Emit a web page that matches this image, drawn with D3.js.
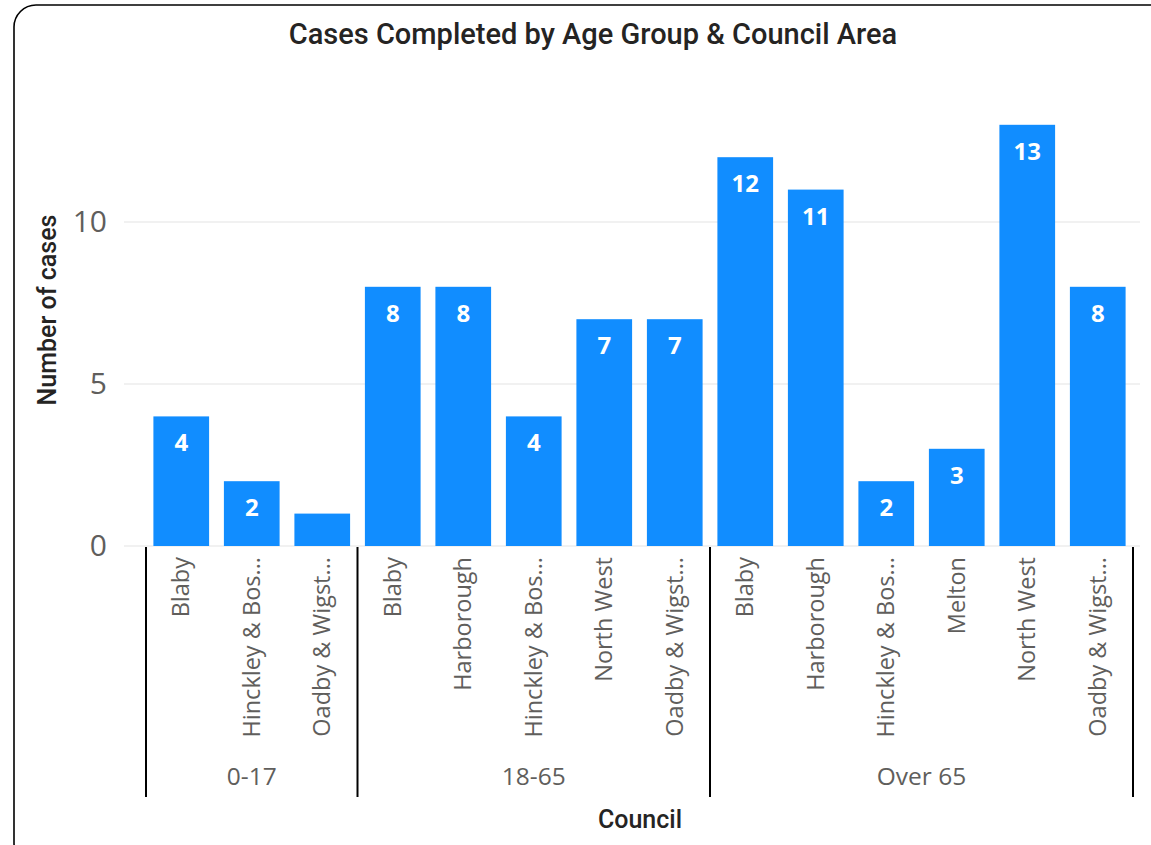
<!DOCTYPE html>
<html><head><meta charset="utf-8">
<script src="https://cdn.jsdelivr.net/npm/d3@7"></script>
<style>body{margin:0;background:#fff;}svg{display:block;}</style>
</head><body>
<svg id="c" width="1151" height="845"></svg>
<script>
const groups = ["0-17","18-65","Over 65"];
const councils = ["Blaby","Hinckley & Bos...","Oadby & Wigst...","Blaby","Harborough","Hinckley & Bos...","North West","Oadby & Wigst...","Blaby","Harborough","Hinckley & Bos...","Melton","North West","Oadby & Wigst..."];
const barGroup = ["0-17","0-17","0-17","18-65","18-65","18-65","18-65","18-65","Over 65","Over 65","Over 65","Over 65","Over 65","Over 65"];
const values = [4,2,1,8,8,4,7,7,12,11,2,3,13,8];
const yTicks = [0,5,10];

const svg = d3.select("#c");
const font = "'Open Sans', 'Noto Sans', sans-serif";
const tfont = "Roboto, 'DejaVu Sans', sans-serif";
svg.append("rect").attr("x",14).attr("y",5).attr("width",1160).attr("height",860).attr("rx",22)
  .attr("fill","#fff").attr("stroke","#000").attr("stroke-width",1.6);

const idx = values.map((d,i)=>i);
const x = d3.scaleBand().domain(idx).range([146,1133]).paddingInner(0.21).paddingOuter(0.105);
const y = d3.scaleLinear().domain([0,10]).range([546,222]);

// gridlines
svg.append("g").selectAll("line").data(yTicks).join("line")
  .attr("x1",124).attr("x2",1140).attr("y1",d=>y(d)).attr("y2",d=>y(d))
  .attr("stroke","#EDEDED").attr("stroke-width",1.5);

// y axis
const ya = svg.append("g").attr("transform","translate(107,0)")
  .call(d3.axisLeft(y).tickValues(yTicks).tickSize(0).tickPadding(0));
ya.select(".domain").remove();
ya.selectAll("text").attr("font-family",font).attr("font-size",30).attr("fill","#605E5C");

// bars
svg.append("g").selectAll("rect").data(idx).join("rect")
  .attr("x",i=>x(i)).attr("width",x.bandwidth())
  .attr("y",i=>y(values[i])).attr("height",i=>y(0)-y(values[i]))
  .attr("fill","#118DFF");

// data labels
svg.append("g").selectAll("text").data(idx.filter(i=>values[i]>=2)).join("text")
  .attr("x",i=>x(i)+x.bandwidth()/2).attr("y",i=>y(values[i])+35)
  .attr("text-anchor","middle").attr("font-family",font).attr("font-weight",700)
  .attr("font-size",24).attr("fill","#fff").text(i=>values[i]);

// x category labels
svg.append("g").selectAll("text").data(idx).join("text")
  .attr("transform",i=>`translate(${x(i)+x.bandwidth()/2+8},557) rotate(-90)`)
  .attr("text-anchor","end").attr("font-family",font).attr("font-size",23.5).attr("fill","#605E5C")
  .text(i=>councils[i]);

// group separators and labels
const bounds = groups.map(g=>{
  const ids = idx.filter(i=>barGroup[i]===g);
  const s = x.step(), pad = (s - x.bandwidth())/2;
  return {g, x0: x(ids[0])-pad, x1: x(ids[ids.length-1])+x.bandwidth()+pad};
});
const seps = [bounds[0].x0, ...bounds.map(b=>b.x1)];
svg.append("g").selectAll("line").data(seps).join("line")
  .attr("x1",d=>d).attr("x2",d=>d).attr("y1",547).attr("y2",797)
  .attr("stroke","#000").attr("stroke-width",2);
svg.append("g").selectAll("text").data(bounds).join("text")
  .attr("x",b=>(b.x0+b.x1)/2).attr("y",785).attr("text-anchor","middle")
  .attr("font-family",font).attr("font-size",24.5).attr("fill","#605E5C").text(b=>b.g);

// titles
svg.append("text").attr("x",593).attr("y",44).attr("text-anchor","middle")
  .attr("font-family",tfont).attr("font-weight",500).attr("font-size",29).attr("fill","#252423")
  .text("Cases Completed by Age Group & Council Area");
svg.append("text").attr("transform","translate(56,310) rotate(-90)").attr("text-anchor","middle")
  .attr("font-family",tfont).attr("font-weight",500).attr("font-size",25).attr("fill","#252423")
  .text("Number of cases");
svg.append("text").attr("x",640).attr("y",828).attr("text-anchor","middle")
  .attr("font-family",tfont).attr("font-weight",500).attr("font-size",25).attr("fill","#252423")
  .text("Council");
</script>
</body></html>
